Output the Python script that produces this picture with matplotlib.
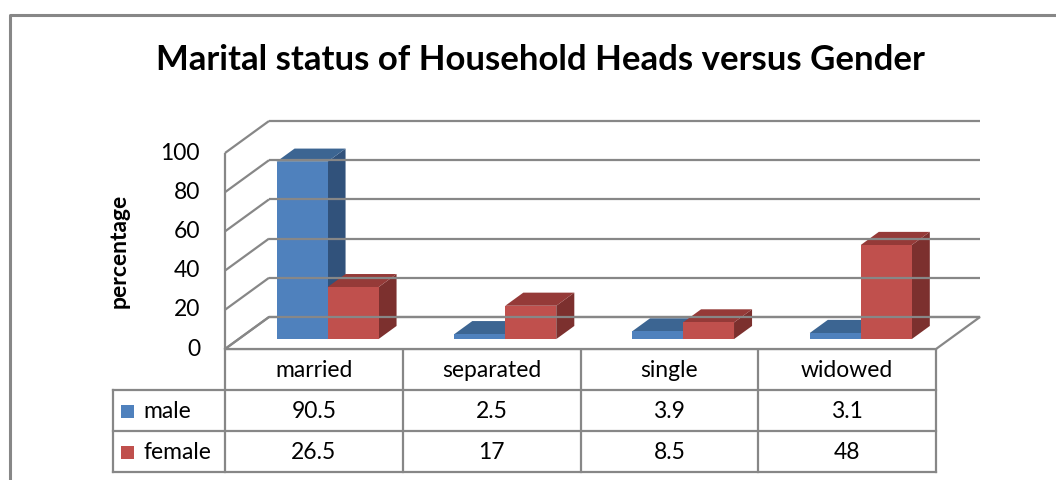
import matplotlib.pyplot as plt
from matplotlib.patches import Polygon, Rectangle

categories = ["married", "separated", "single", "widowed"]
series_names = ["male", "female"]
male = [90.5, 2.5, 3.9, 3.1]
female = [26.5, 17, 8.5, 48]
table_labels = [["90.5", "2.5", "3.9", "3.1"], ["26.5", "17", "8.5", "48"]]
yticks = [0, 20, 40, 60, 80, 100]

front_cols = ["#4F81BD", "#C0504D"]
top_cols = ["#3C6592", "#953A38"]
side_cols = ["#31527B", "#7C302E"]
grid_col = "#878787"

plt.rcParams["font.family"] = ["Lato", "DejaVu Sans"]

W, H = 1056, 480
fig = plt.figure(figsize=(W / 100, H / 100), dpi=100)

# overlay in pixel units for frame, title and table
ov = fig.add_axes([0, 0, 1, 1])
ov.set_xlim(0, W)
ov.set_ylim(H, 0)
ov.axis("off")

# plot area: front plane of the 3D box
x0_px, x1_px, y0_px, y100_px = 225, 936, 349, 153
ax = fig.add_axes([x0_px / W, (H - y0_px) / H, (x1_px - x0_px) / W, (y0_px - y100_px) / H])
ax.set_xlim(0, 4)
ax.set_ylim(0, 100)
ax.axis("off")

px_x = 4 / (x1_px - x0_px)     # data units per pixel
px_y = 100 / (y0_px - y100_px)
DX, DY = 44 * px_x, 32 * px_y   # full depth offset


def P(x, y, d):
    return (x + d * DX, y + d * DY)


lkw = dict(color=grid_col, lw=1.6, clip_on=False, solid_capstyle="butt")

# floor
floor = Polygon([P(0, 0, 0), P(4, 0, 0), P(4, 0, 1), P(0, 0, 1)], closed=True,
                facecolor="white", edgecolor=grid_col, lw=1.6, clip_on=False)
ax.add_patch(floor)

# back wall gridlines and left wall
for v in yticks:
    ax.plot(*zip(P(0, v, 1), P(4, v, 1)), **lkw)
    ax.plot(*zip(P(0, v, 0), P(0, v, 1)), **lkw)
ax.plot([0, 0], [0, 100], **lkw)

# y tick labels
fs = 16.5
for v in yticks:
    ax.text(-25 * px_x, v, str(v), ha="right", va="center", fontsize=fs, clip_on=False)
ax.text(-106 * px_x, 50, "percentage", rotation=90, ha="center", va="center",
        fontsize=16.5, fontweight="bold")

# bars
d0, d1 = 0.31, 0.72
bw = 51 * px_x
for i in range(len(categories)):
    for s, vals in enumerate([male, female]):
        v = vals[i]
        xa = i + 0.5 - bw + s * bw
        xb = xa + bw
        front = [P(xa, 0, d0), P(xb, 0, d0), P(xb, v, d0), P(xa, v, d0)]
        top = [P(xa, v, d0), P(xb, v, d0), P(xb, v, d1), P(xa, v, d1)]
        side = [P(xb, 0, d0), P(xb, v, d0), P(xb, v, d1), P(xb, 0, d1)]
        ax.add_patch(Polygon(side, closed=True, facecolor=side_cols[s], lw=0, clip_on=False))
        ax.add_patch(Polygon(top, closed=True, facecolor=top_cols[s], lw=0, clip_on=False))
        ax.add_patch(Polygon(front, closed=True, facecolor=front_cols[s], lw=0, clip_on=False))

# outer frame (partially visible)
ov.plot([10, 10, W + 5], [H + 5, 15, 15], color="#878787", lw=2.2, clip_on=False)

# title
ov.text(540, 60, "Marital status of Household Heads versus Gender", ha="center",
        va="center", fontsize=25, fontweight="bold")

# data table
tkw = dict(color=grid_col, lw=1.6, clip_on=False)
col_w = (x1_px - x0_px) / len(categories)
row_y = [349, 390, 431, 472]
left_x = 113
for k in range(len(categories) + 1):
    xk = x0_px + k * col_w
    ov.plot([xk, xk], [row_y[0], row_y[-1]], **tkw)
ov.plot([left_x, left_x], [row_y[1], row_y[-1]], **tkw)
ov.plot([x0_px, x1_px], [row_y[0], row_y[0]], **tkw)
for yk in row_y[1:]:
    ov.plot([left_x, x1_px], [yk, yk], **tkw)

for k, c in enumerate(categories):
    ov.text(x0_px + (k + 0.5) * col_w, (row_y[0] + row_y[1]) / 2 + 1, c,
            ha="center", va="center", fontsize=fs)
for r in range(len(series_names)):
    yc = (row_y[r + 1] + row_y[r + 2]) / 2 + 1
    ov.add_patch(Rectangle((121, yc - 7), 13, 13, facecolor=front_cols[r], lw=0))
    ov.text(143, yc, series_names[r], ha="left", va="center", fontsize=fs)
    for k in range(len(categories)):
        ov.text(x0_px + (k + 0.5) * col_w, yc, table_labels[r][k],
                ha="center", va="center", fontsize=fs)

fig.savefig("out.png", dpi=100)
